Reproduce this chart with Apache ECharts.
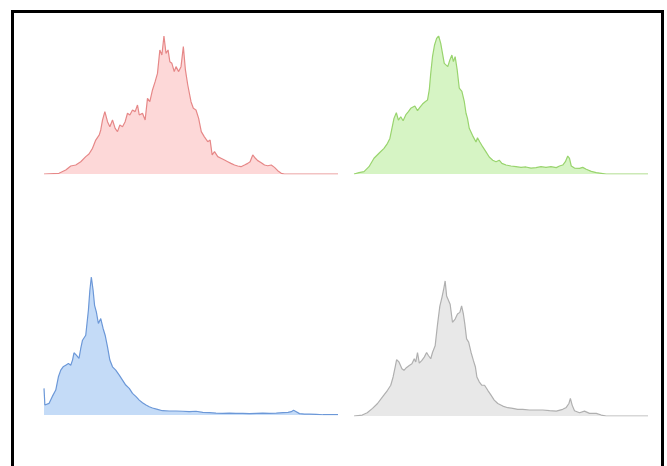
<!DOCTYPE html>
<html>
<head>
<meta charset="utf-8">
<title>distributions</title>
<script src="https://cdn.jsdelivr.net/npm/echarts@6/dist/echarts.min.js"></script>
<style>
  html, body { margin: 0; padding: 0; background: #fff; overflow: hidden; }
  #frame { position: absolute; left: 11px; top: 10px; width: 647px; height: 480px; border: 3px solid #000; }
  #main { position: absolute; left: 0; top: 0; width: 667px; height: 466px; }
</style>
</head>
<body>
<div id="frame"></div>
<div id="main"></div>
<script>
// bin position (0-100) and relative height (peak = 100)
var redX = [0, 5.1, 7.4, 9.1, 10.8, 12.5, 14.2, 15.3, 16.5, 17.6, 18.8, 19.3, 19.9, 20.7, 21.6, 22.4, 23.3, 24.2, 25.0, 25.8, 26.7, 27.6, 28.4, 29.2, 30.1, 31.0, 31.8, 32.4, 33.5, 34.4, 35.2, 36.0, 36.9, 37.8, 38.6, 39.4, 40.1, 40.8, 41.5, 42.2, 42.8, 43.5, 44.3, 44.9, 45.8, 46.6, 47.4, 48.1, 48.9, 50.0, 50.8, 51.7, 52.6, 53.5, 54.5, 55.7, 56.5, 57.2, 58.0, 59.1, 60.2, 61.4, 62.5, 63.6, 64.8, 65.9, 67.0, 68.2, 69.3, 70.1, 71.0, 71.9, 72.7, 73.9, 75.0, 76.1, 77.3, 78.4, 79.5, 80.7, 81.8, 100];
var redY = [0, 0.5, 2.9, 5.8, 6.5, 8.9, 12.6, 14.5, 18.6, 24.6, 28.3, 31.9, 39.1, 45.2, 37.9, 34.3, 39.1, 33.1, 30.7, 35.5, 34.3, 37.9, 44.0, 42.8, 46.4, 45.2, 50.0, 42.8, 44.0, 39.1, 54.8, 52.4, 60.9, 66.9, 72.9, 89.9, 86.2, 100, 87.4, 89.9, 81.4, 80.2, 74.2, 77.8, 74.2, 77.8, 92.3, 75.4, 64.5, 52.4, 47.6, 46.4, 40.3, 30.7, 27.1, 23.4, 24.6, 13.8, 16.2, 12.6, 11.4, 10.1, 8.9, 7.7, 6.5, 5.8, 5.3, 6.5, 7.7, 8.9, 13.8, 11.4, 9.7, 8.2, 6.5, 6.0, 6.5, 4.8, 2.4, 0.5, 0, 0];

var greenX = [0, 1.7, 3.4, 5.1, 6.8, 8.5, 10.2, 11.4, 12.2, 12.8, 13.6, 14.4, 15.1, 15.9, 16.7, 17.6, 18.5, 19.3, 19.9, 20.7, 21.6, 22.4, 23.3, 24.2, 25.0, 25.6, 26.1, 26.7, 27.4, 28.1, 28.8, 29.5, 30.1, 30.7, 31.3, 31.9, 32.6, 33.3, 33.8, 34.4, 35.1, 35.8, 36.7, 37.5, 38.1, 38.6, 39.2, 39.8, 40.3, 40.9, 41.5, 42.0, 42.8, 43.8, 44.9, 46.0, 47.2, 48.3, 49.4, 50.3, 51.7, 53.4, 55.1, 56.8, 58.5, 60.2, 61.9, 63.6, 65.3, 67.0, 68.8, 69.9, 71.0, 71.9, 72.7, 73.3, 73.9, 75.0, 76.7, 77.8, 79.0, 80.7, 82.4, 84.1, 85.8, 100];
var greenY = [0, 1.0, 1.7, 5.3, 11.4, 15.0, 18.6, 22.2, 25.8, 31.9, 40.3, 44.4, 39.1, 41.5, 38.6, 42.8, 45.2, 47.6, 46.4, 49.3, 45.9, 48.3, 50.7, 52.4, 53.6, 60.9, 72.9, 85.0, 93.5, 98.3, 100, 94.7, 87.4, 80.2, 81.4, 77.8, 82.6, 86.2, 81.4, 85.0, 75.4, 62.3, 59.9, 52.7, 44.0, 40.3, 33.1, 31.9, 28.0, 26.8, 23.2, 26.3, 23.2, 19.6, 16.0, 12.3, 10.0, 8.9, 10.0, 7.7, 6.5, 5.8, 5.3, 4.8, 5.1, 4.3, 4.6, 5.3, 4.8, 5.3, 4.6, 5.8, 6.5, 8.9, 13.0, 11.4, 5.8, 4.3, 4.1, 4.8, 3.4, 1.9, 1.0, 0.5, 0, 0];

var blueX = [0, 0.3, 0.8, 1.7, 2.8, 4.0, 4.9, 5.7, 6.5, 7.4, 8.3, 9.1, 9.7, 10.2, 11.0, 11.9, 12.5, 13.1, 13.6, 14.2, 15.1, 15.6, 16.1, 16.7, 17.2, 17.8, 18.5, 19.3, 20.1, 20.8, 21.6, 22.4, 23.3, 24.4, 25.6, 26.7, 27.8, 29.0, 30.1, 31.3, 32.4, 33.5, 34.7, 35.8, 36.9, 38.6, 40.3, 42.6, 44.9, 47.2, 49.4, 51.7, 54.0, 56.3, 58.5, 60.8, 63.1, 65.3, 67.6, 69.9, 72.2, 74.4, 76.7, 79.0, 81.3, 83.0, 84.1, 84.9, 85.8, 86.9, 88.6, 90.3, 92.6, 94.9, 97.2, 100];
var blueY = [19.3, 7.2, 6.0, 8.4, 13.3, 18.1, 27.7, 32.5, 34.9, 36.1, 37.3, 36.1, 39.8, 45.1, 43.4, 41.0, 48.2, 54.2, 53.0, 57.8, 75.9, 90.4, 100, 90.4, 79.5, 74.7, 66.3, 69.9, 62.7, 57.8, 49.4, 39.8, 34.9, 32.5, 28.9, 25.3, 21.7, 19.3, 15.7, 13.3, 10.8, 8.9, 7.2, 6.0, 5.1, 4.1, 3.1, 2.9, 2.9, 2.7, 2.4, 2.7, 1.9, 1.7, 1.4, 1.2, 1.4, 1.2, 1.2, 1.0, 1.2, 1.4, 1.2, 1.4, 1.7, 1.9, 2.4, 3.4, 2.4, 1.0, 0.7, 0.7, 0.5, 0.2, 0.2, 0.2];

var grayX = [0, 2.8, 4.5, 6.3, 8.0, 9.7, 11.4, 12.5, 13.3, 14.0, 14.5, 15.3, 16.3, 17.0, 17.8, 18.8, 19.7, 20.5, 21.0, 21.6, 22.2, 23.1, 23.9, 24.7, 25.3, 26.1, 26.7, 27.6, 28.4, 29.2, 29.9, 30.5, 31.0, 31.5, 32.0, 32.7, 33.5, 34.4, 35.2, 36.0, 36.6, 37.2, 37.7, 38.3, 39.0, 39.8, 40.6, 41.3, 41.8, 42.6, 43.5, 44.4, 45.5, 46.6, 47.7, 48.9, 50.6, 52.3, 54.0, 55.7, 57.4, 59.7, 61.9, 64.2, 66.5, 68.8, 71.0, 72.2, 73.1, 73.6, 74.2, 75.0, 76.7, 78.4, 80.1, 82.4, 84.1, 85.8, 100];
var grayY = [0, 0.7, 2.4, 5.6, 9.2, 14.1, 18.9, 22.6, 28.7, 36.0, 41.4, 39.7, 34.8, 33.6, 35.5, 37.2, 38.4, 42.1, 39.7, 46.7, 38.9, 40.9, 43.3, 46.7, 44.5, 42.1, 46.7, 51.6, 67.2, 80.8, 87.1, 93.2, 99.3, 88.3, 89.5, 82.2, 68.9, 71.3, 75.0, 76.2, 81.0, 75.0, 67.6, 56.7, 54.3, 46.9, 40.9, 36.0, 28.7, 25.1, 22.6, 22.6, 18.9, 15.3, 11.7, 9.2, 7.3, 6.1, 5.6, 4.9, 4.9, 4.4, 4.4, 4.4, 3.9, 3.6, 4.9, 6.3, 9.2, 12.9, 8.0, 3.9, 2.4, 3.6, 1.9, 1.9, 0.7, 0, 0];

function pairs(xs, ys) {
  return xs.map(function (x, i) { return [x, ys[i]]; });
}

var panels = [
  { x: redX, y: redY, line: '#e68888', fill: '#fdd8d8', grid: { left: 44, top: 36, width: 294, height: 138 } },
  { x: greenX, y: greenY, line: '#99d46e', fill: '#d6f4c4', grid: { left: 354, top: 36, width: 294, height: 138 } },
  { x: blueX, y: blueY, line: '#6c98d8', fill: '#c4dbf7', grid: { left: 44, top: 277, width: 294, height: 138 } },
  { x: grayX, y: grayY, line: '#b0b0b0', fill: '#e8e8e8', grid: { left: 354, top: 280, width: 294, height: 136 } }
];

var myChart = echarts.init(document.getElementById('main'));
var option = {
  animation: false,
  backgroundColor: 'transparent',
  grid: panels.map(function (p) { return p.grid; }),
  xAxis: panels.map(function (p, i) {
    return { type: 'value', gridIndex: i, min: 0, max: 100, show: false };
  }),
  yAxis: panels.map(function (p, i) {
    return { type: 'value', gridIndex: i, min: 0, max: 100, show: false };
  }),
  series: panels.map(function (p, i) {
    return {
      type: 'line',
      xAxisIndex: i,
      yAxisIndex: i,
      showSymbol: false,
      data: pairs(p.x, p.y),
      lineStyle: { color: p.line, width: 1.2 },
      itemStyle: { color: p.line },
      areaStyle: { color: p.fill, opacity: 1 }
    };
  })
};
myChart.setOption(option);
</script>
</body>
</html>
